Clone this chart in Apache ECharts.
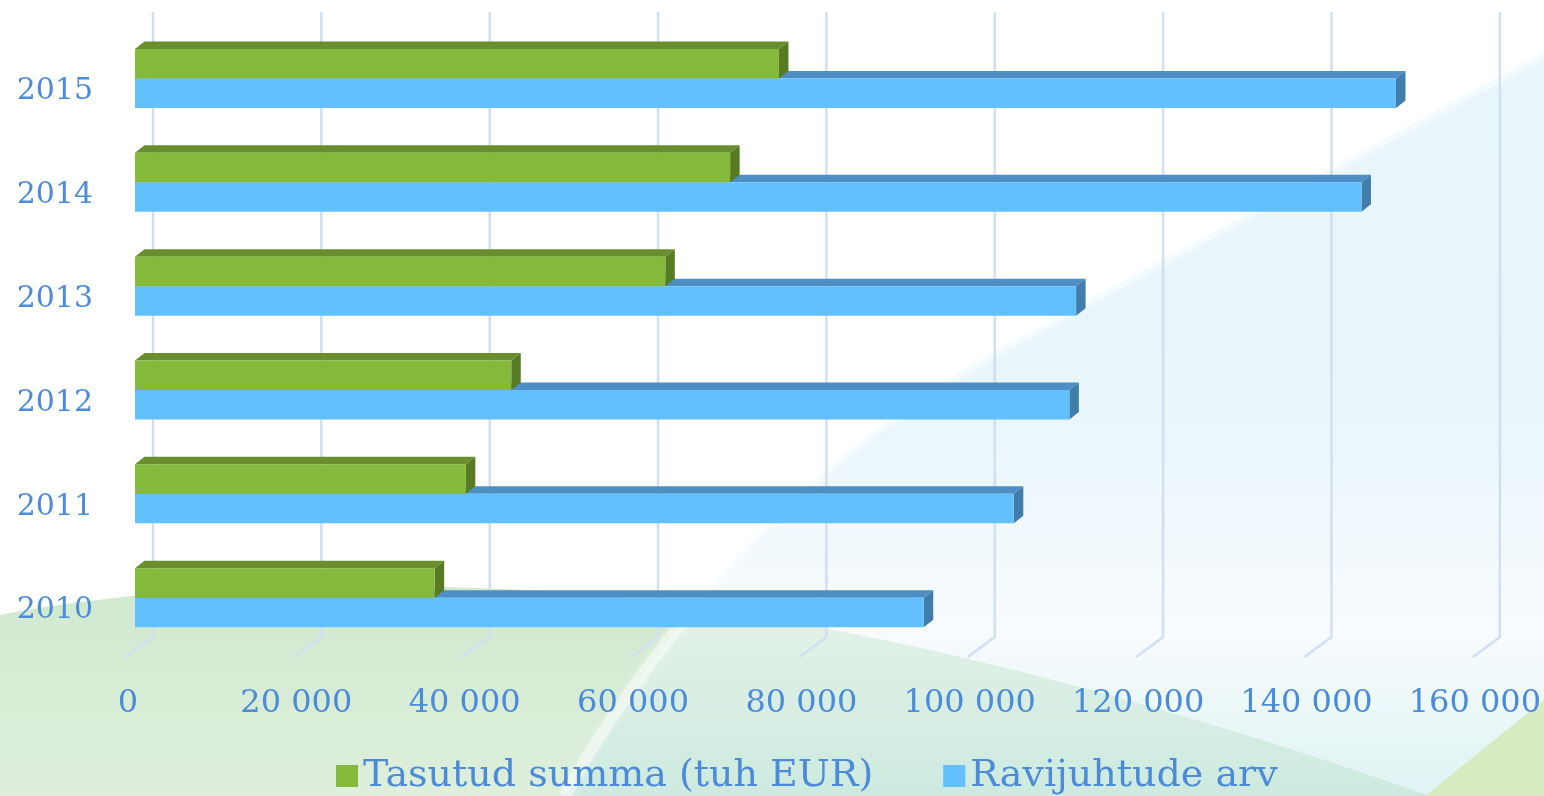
<!DOCTYPE html>
<html><head><meta charset="utf-8">
<script src="https://cdn.jsdelivr.net/npm/echarts@6/dist/echarts.min.js"></script>
<style>html,body{margin:0;padding:0;background:#fff;overflow:hidden}#c{width:1544px;height:796px}</style>
</head><body><div id="c"></div>
<script>
// ---- data ----
const years = ['2010', '2011', '2012', '2013', '2014', '2015'];
const paidSum = [35600, 39300, 44700, 63000, 70700, 76500];       // Tasutud summa (tuh EUR)
const caseCount = [93700, 104400, 111000, 111800, 145700, 149800]; // Ravijuhtude arv
const xTicks = [0, 20000, 40000, 60000, 80000, 100000, 120000, 140000, 160000];
const seriesNames = ['Tasutud summa (tuh EUR)', 'Ravijuhtude arv'];

// ---- styles ----
const TXT = '#4b8bd8';
const FONT = 'DejaVu Serif';
const GREEN = { front: '#85b93c', top: '#6a8e2e', side: '#577b22' };
const BLUE = { front: '#63c0fe', top: '#4d8fc4', side: '#417dab' };
const DX = 9.5, DY = -7.5;

function vgrad(stops) {
  return { type: 'linear', x: 0, y: 0, x2: 0, y2: 1, global: false,
    colorStops: stops.map(s => ({ offset: s[0], color: s[1] })) };
}
// sample a cubic bezier (decorative background shapes only)
function bez(a, b, c, d, n) {
  const out = [];
  for (let i = 0; i <= n; i++) {
    const t = i / n, u = 1 - t;
    out.push([u*u*u*a[0] + 3*u*u*t*b[0] + 3*u*t*t*c[0] + t*t*t*d[0],
              u*u*u*a[1] + 3*u*u*t*b[1] + 3*u*t*t*c[1] + t*t*t*d[1]]);
  }
  return out;
}
const hillEdge = bez([0, 615], [120, 590], [330, 578], [560, 592], 20)
  .concat(bez([560, 592], [800, 610], [1100, 680], [1430, 796], 30));
const bandEdge = [[1544, 52], [1000, 348]]
  .concat(bez([1000, 348], [900, 405], [800, 480], [720, 575], 20))
  .concat(bez([720, 575], [650, 660], [600, 730], [565, 796], 20));

function barRender(upper, c) {
  return function (params, api) {
    const v = api.value(0), ci = api.value(1);
    const p0 = api.coord([0, ci]);
    const p1 = api.coord([v, ci]);
    const band = api.size([0, 1])[1];
    const t = band * 0.284;
    const yTop = upper ? p0[1] - t : p0[1];
    const yBot = yTop + t;
    const x0 = p0[0], x1 = p1[0];
    return {
      type: 'group',
      children: [
        { type: 'polygon', shape: { points: [[x0, yTop], [x1, yTop], [x1 + DX, yTop + DY], [x0 + DX, yTop + DY]] }, style: { fill: c.top } },
        { type: 'polygon', shape: { points: [[x1, yTop], [x1 + DX, yTop + DY], [x1 + DX, yBot + DY], [x1, yBot]] }, style: { fill: c.side } },
        { type: 'rect', shape: { x: x0, y: yTop, width: x1 - x0, height: t }, style: { fill: c.front } }
      ]
    };
  };
}

function gridRender(params, api) {
  const cs = params.coordSys;
  const x = api.coord([api.value(0), 0])[0] + 18;
  const yb = cs.y + cs.height - 12.6;
  return {
    type: 'polyline',
    shape: { points: [[x, cs.y - 14.6], [x, yb], [x - 27, yb + 20]] },
    style: { stroke: '#d2dff2', lineWidth: 2.5, fill: null }
  };
}

const chart = echarts.init(document.getElementById('c'), null, { renderer: 'canvas' });
chart.setOption({
  backgroundColor: '#ffffff',
  animation: false,
  graphic: [
    { type: 'polygon', z: -5, silent: true,
      shape: { points: hillEdge.concat([[0, 796]]) },
      style: { fill: vgrad([[0, '#d0e9cf'], [1, '#deefdc']]) } },
    { type: 'polygon', z: -4, silent: true,
      shape: { points: bandEdge.concat([[1544, 796]]) },
      style: { fill: vgrad([[0, 'rgba(222,242,251,0.7)'], [0.5, 'rgba(215,239,250,0.55)'], [0.78, 'rgba(240,248,252,0.5)'], [1, 'rgba(185,228,228,0.45)']]) } },
    { type: 'polyline', z: -3, silent: true,
      shape: { points: bandEdge },
      style: { stroke: 'rgba(255,255,255,0.45)', lineWidth: 12, fill: null, shadowBlur: 12, shadowColor: 'rgba(255,255,255,0.6)' } },
    { type: 'polygon', z: -3, silent: true,
      shape: { points: [[1544, 700], [1425, 796], [1544, 796]] },
      style: { fill: '#d6ebbf' } }
  ],
  grid: { left: 135, right: 62, top: 26.6, bottom: 146.4, containLabel: false },
  legend: {
    data: seriesNames, left: 331, top: 752, icon: 'rect',
    itemWidth: 22, itemHeight: 22, itemGap: 70,
    textStyle: { fontFamily: FONT, fontSize: 38, color: TXT }
  },
  xAxis: {
    type: 'value', min: 0, max: 160000, interval: 20000,
    axisLine: { show: false }, axisTick: { show: false }, splitLine: { show: false },
    axisLabel: {
      margin: 38, fontFamily: FONT, fontSize: 32, color: TXT, padding: [0, 14, 0, 0],
      formatter: v => String(v).replace(/\B(?=(\d{3})+(?!\d))/g, ' ')
    }
  },
  yAxis: {
    type: 'category', data: years,
    axisLine: { show: false }, axisTick: { show: false },
    axisLabel: { margin: 42, fontFamily: FONT, fontSize: 30, color: TXT, verticalAlign: 'top', lineHeight: 26 }
  },
  series: [
    { type: 'custom', name: 'grid', z: 1, silent: true, clip: false,
      data: xTicks.map(v => [v, 0]), encode: { x: 0, y: 1 }, renderItem: gridRender },
    { type: 'custom', name: seriesNames[1], z: 3, clip: false, itemStyle: { color: BLUE.front },
      data: caseCount.map((v, i) => [v, i]), encode: { x: 0, y: 1 }, renderItem: barRender(false, BLUE) },
    { type: 'custom', name: seriesNames[0], z: 4, clip: false, itemStyle: { color: GREEN.front },
      data: paidSum.map((v, i) => [v, i]), encode: { x: 0, y: 1 }, renderItem: barRender(true, GREEN) }
  ]
});
</script>
</body></html>
